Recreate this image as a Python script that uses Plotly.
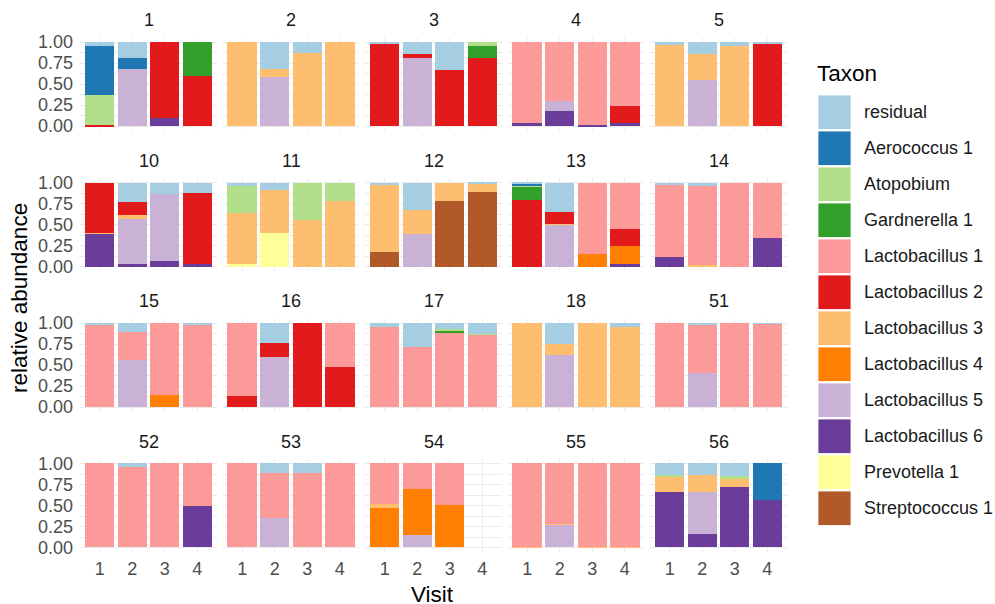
import plotly.graph_objects as go

subjects = ["1", "2", "3", "4", "5", "10", "11", "12", "13", "14",
            "15", "16", "17", "18", "51", "52", "53", "54", "55", "56"]
visits = [1, 2, 3, 4]
taxa = ["residual", "Aerococcus 1", "Atopobium", "Gardnerella 1",
        "Lactobacillus 1", "Lactobacillus 2", "Lactobacillus 3", "Lactobacillus 4",
        "Lactobacillus 5", "Lactobacillus 6", "Prevotella 1", "Streptococcus 1"]
colors = ["#A6CEE3", "#1F78B4", "#B2DF8A", "#33A02C", "#FB9A99", "#E31A1C",
          "#FDBF6F", "#FF7F00", "#CAB2D6", "#6A3D9A", "#FFFF99", "#B15928"]

Z = [0, 0, 0, 0]
# one row per subject (same order as `subjects`), one value per visit
residual = [[0.047, 0.186, 0, 0], [0, 0.316, 0.13, 0], [0.02, 0.146, 0.336, 0], Z,
            [0.04, 0.146, 0.05, 0.01], [0, 0.234, 0.139, 0.127], [0.036, 0.091, 0, 0],
            [0.028, 0.325, 0, 0.016], [0.015, 0.354, 0, 0], [0.03, 0.045, 0, 0],
            [0.01, 0.112, 0, 0.01], [0, 0.24, 0, 0], [0.052, 0.28, 0.068, 0.128],
            [0, 0.248, 0, 0.048], [0, 0.02, 0, 0.005], [0, 0.04, 0, 0],
            [0, 0.119, 0.119, 0], Z, Z, [0.138, 0.138, 0.15, 0]]
aerococcus1 = [[0.578, 0.13, 0, 0], Z, Z, Z, Z, Z, Z, Z, [0.02, 0, 0, 0], Z,
               Z, Z, Z, Z, Z, Z, Z, Z, Z, [0, 0, 0, 0.435]]
atopobium = [[0.365, 0, 0, 0], Z, [0, 0, 0, 0.047], Z, Z, Z, [0.329, 0, 0.444, 0.226],
             Z, [0.02, 0, 0, 0], Z, Z, Z, [0, 0, 0.032, 0.005], Z, Z, Z, Z, Z, Z,
             [0.02, 0, 0.036, 0]]
gardnerella1 = [[0, 0, 0, 0.403], Z, [0, 0, 0, 0.139], Z, Z, Z, Z, Z, [0.15, 0, 0, 0], Z,
                Z, Z, [0, 0, 0.012, 0], Z, Z, Z, Z, Z, Z, Z]
lacto1 = [Z, Z, Z, [0.96, 0.70, 0.985, 0.759], Z, Z, Z, Z, [0, 0, 0.85, 0.555],
          [0.86, 0.935, 1, 0.657], [0.99, 0.328, 0.86, 0.99], [0.868, 0, 0, 0.52],
          [0.948, 0.72, 0.888, 0.867], Z, [1, 0.58, 1, 0.995], [1, 0.96, 1, 0.51],
          [1, 0.533, 0.881, 1], [0.482, 0.304, 0.494, 0], [0.995, 0.726, 0.995, 0.995], Z]
lacto2 = [[0.01, 0, 0.91, 0.597], Z, [0.98, 0.048, 0.664, 0.814], [0, 0, 0, 0.201],
          [0, 0, 0, 0.99], [0.597, 0.147, 0, 0.845], Z, Z, [0.795, 0.142, 0, 0.201], Z,
          Z, [0.132, 0.16, 1, 0.48], Z, Z, Z, Z, Z, Z, Z, Z]
lacto3 = [Z, [1, 0.099, 0.87, 1], Z, Z, [0.96, 0.301, 0.95, 0], [0.01, 0.059, 0, 0],
          [0.603, 0.516, 0.556, 0.774], [0.805, 0.286, 0.222, 0.095], [0, 0.01, 0, 0],
          [0, 0.02, 0, 0], Z, Z, Z, [1, 0.132, 1, 0.952], Z, Z, Z, [0.048, 0, 0, 0],
          [0.005, 0.005, 0.005, 0.005], [0.178, 0.206, 0.091, 0]]
lacto4 = [Z, Z, Z, Z, Z, Z, Z, Z, [0, 0, 0.15, 0.213], Z, [0, 0, 0.14, 0], Z, Z, Z,
          Z, Z, Z, [0.47, 0.546, 0.506, 0], Z, Z]
lacto5 = [[0, 0.684, 0, 0], [0, 0.585, 0, 0], [0, 0.806, 0, 0], [0, 0.122, 0, 0],
          [0, 0.553, 0, 0], [0, 0.528, 0.794, 0], Z, [0, 0.389, 0, 0], [0, 0.494, 0, 0], Z,
          [0, 0.56, 0, 0], [0, 0.6, 0, 0], Z, [0, 0.62, 0, 0], [0, 0.4, 0, 0], Z,
          [0, 0.348, 0, 0], [0, 0.15, 0, 0], [0, 0.269, 0, 0], [0, 0.494, 0, 0]]
lacto6 = [[0, 0, 0.09, 0], Z, Z, [0.04, 0.178, 0.015, 0.04], Z, [0.393, 0.032, 0.067, 0.028],
          Z, Z, [0, 0, 0, 0.031], [0.11, 0, 0, 0.343], Z, Z, Z, Z, Z, [0, 0, 0, 0.49],
          Z, Z, Z, [0.664, 0.162, 0.723, 0.565]]
prevotella1 = [Z, Z, Z, Z, Z, Z, [0.032, 0.393, 0, 0], Z, Z, Z,
               Z, Z, Z, Z, Z, Z, Z, Z, Z, Z]
streptococcus1 = [Z, Z, Z, Z, Z, Z, Z, [0.167, 0, 0.778, 0.889], Z, Z,
                  Z, Z, Z, Z, Z, Z, Z, Z, Z, Z]

values = [residual, aerococcus1, atopobium, gardnerella1, lacto1, lacto2, lacto3,
          lacto4, lacto5, lacto6, prevotella1, streptococcus1]

W, H = 995, 604
FONT = "Liberation Sans, Arial, sans-serif"
SMALL, BIG = 18, 22.5
NCOL = 5
x0, pitch_x, pw = 80.1, 142.5, 136.8
y0, pitch_y, ph = 37.8, 140.5, 92.4

fig = go.Figure()
layout = {}
annotations = []
shapes = []

for k, subj in enumerate(subjects):
    r, c = divmod(k, NCOL)
    n = k + 1
    xs = "" if n == 1 else str(n)
    left = x0 + c * pitch_x
    top = y0 + r * pitch_y
    layout["xaxis" + xs] = dict(
        domain=[left / W, (left + pw) / W], anchor="y" + xs,
        range=[0.4, 4.6], tickvals=visits, ticktext=[str(v) for v in visits],
        showticklabels=(r == 3), showgrid=True, gridcolor="#EBEBEB", gridwidth=1.1,
        zeroline=False, showline=False, ticks="", fixedrange=True, automargin=False,
        ticklabelstandoff=4,
        tickfont=dict(family=FONT, size=SMALL, color="#4D4D4D"),
    )
    layout["yaxis" + xs] = dict(
        domain=[1 - (top + ph) / H, 1 - top / H], anchor="x" + xs,
        range=[-0.05, 1.05], tickvals=[0, 0.25, 0.5, 0.75, 1.0],
        ticktext=["0.00", "0.25", "0.50", "0.75", "1.00"],
        showticklabels=(c == 0), showgrid=True, gridcolor="#EBEBEB", gridwidth=1.1,
        minor=dict(tickvals=[0.125, 0.375, 0.625, 0.875], showgrid=True,
                   gridcolor="#EBEBEB", gridwidth=0.6),
        zeroline=False, showline=False, ticks="", fixedrange=True, automargin=False,
        ticklabelstandoff=6,
        tickfont=dict(family=FONT, size=SMALL, color="#4D4D4D"),
    )
    annotations.append(dict(
        text=subj, xref="x" + xs + " domain", yref="paper",
        x=0.5, y=1 - (top - 17.5) / H, showarrow=False,
        xanchor="center", yanchor="middle",
        font=dict(family=FONT, size=SMALL, color="#1A1A1A"),
    ))

# stack: last taxon at the bottom
for t in reversed(range(len(taxa))):
    for k in range(len(subjects)):
        n = k + 1
        xs = "" if n == 1 else str(n)
        fig.add_trace(go.Bar(
            x=visits, y=values[t][k], name=taxa[t], xaxis="x" + xs, yaxis="y" + xs,
            marker=dict(color=colors[t], line=dict(width=0)), showlegend=False,
            hovertemplate=taxa[t] + ": %{y}<extra>" + subjects[k] + "</extra>",
        ))

# axis titles
annotations.append(dict(text="Visit", xref="paper", yref="paper",
                        x=432 / W, y=1 - 594 / H, showarrow=False,
                        xanchor="center", yanchor="middle",
                        font=dict(family=FONT, size=BIG, color="#000000")))
annotations.append(dict(text="relative abundance", xref="paper", yref="paper",
                        x=19 / W, y=1 - 298 / H, showarrow=False, textangle=-90,
                        xanchor="center", yanchor="middle",
                        font=dict(family=FONT, size=BIG, color="#000000")))

# legend (drawn from taxa / colors)
annotations.append(dict(text="Taxon", xref="paper", yref="paper",
                        x=815 / W, y=1 - 73 / H, showarrow=False,
                        xanchor="left", yanchor="middle",
                        font=dict(family=FONT, size=BIG, color="#000000")))
for i, (name, col) in enumerate(zip(taxa, colors)):
    ktop = 95 + 36 * i
    shapes.append(dict(type="rect", xref="paper", yref="paper",
                       x0=818 / W, x1=851 / W, y0=1 - (ktop + 34.5) / H, y1=1 - ktop / H,
                       fillcolor=col, line=dict(width=0.8, color="#FFFFFF")))
    annotations.append(dict(text=name, xref="paper", yref="paper",
                            x=862 / W, y=1 - (ktop + 17.2) / H, showarrow=False,
                            xanchor="left", yanchor="middle",
                            font=dict(family=FONT, size=SMALL, color="#1A1A1A")))

fig.update_layout(
    width=W, height=H, margin=dict(l=0, r=0, t=0, b=0),
    paper_bgcolor="white", plot_bgcolor="white",
    barmode="stack", bargap=0.1, showlegend=False,
    annotations=annotations, shapes=shapes,
    font=dict(family=FONT),
    **layout,
)

fig.write_html("out.html", config={"displayModeBar": False},
               post_script="document.body.style.margin='0px';")
